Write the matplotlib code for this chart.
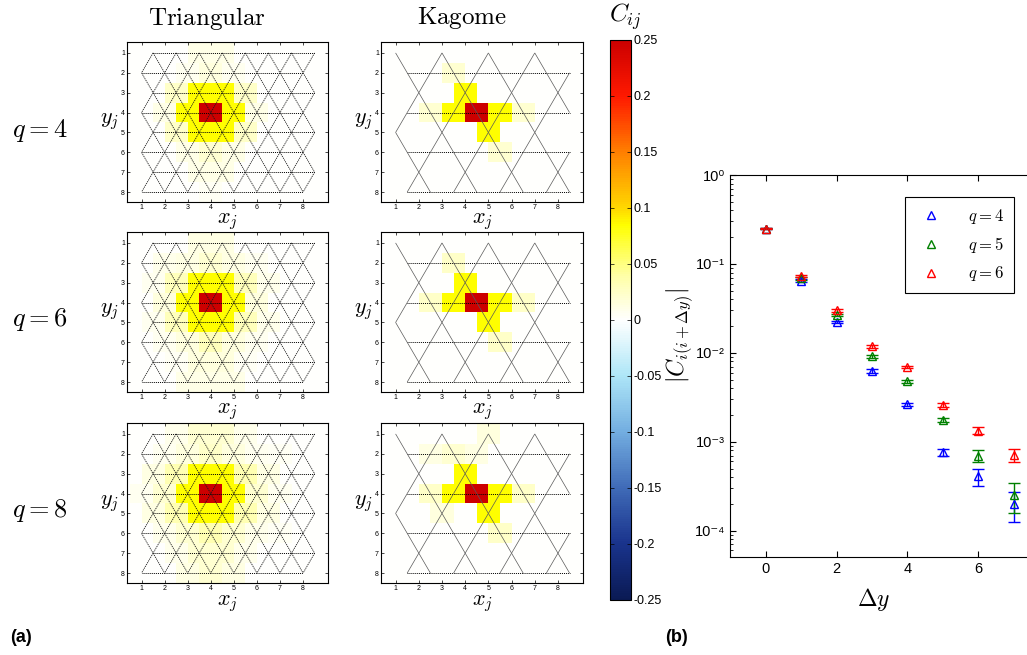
import numpy as np
import matplotlib
matplotlib.use('Agg')
import matplotlib.pyplot as plt
from matplotlib.collections import LineCollection
from matplotlib.colors import LinearSegmentedColormap
from matplotlib.lines import Line2D
from matplotlib.ticker import FuncFormatter

plt.rcParams['font.family'] = ['Liberation Sans', 'DejaVu Sans']
plt.rcParams['mathtext.fontset'] = 'cm'
plt.rcParams['axes.unicode_minus'] = False

W, H = 1027, 655

# correlation maps C_ij around the central site i, entries are (row y, column x, C)
tri_q4 = [(1, 3.5, 0.01), (1, 4.5, 0.01),
          (2, 3, 0.006), (2, 4, 0.015), (2, 5, 0.006),
          (3, 2.5, 0.025), (3, 3.5, 0.085), (3, 4.5, 0.085), (3, 5.5, 0.025),
          (4, 2, 0.01), (4, 3, 0.085), (4, 4, 0.25), (4, 5, 0.085), (4, 6, 0.01),
          (5, 2.5, 0.025), (5, 3.5, 0.085), (5, 4.5, 0.085), (5, 5.5, 0.025),
          (6, 3, 0.01), (6, 4, 0.02), (6, 5, 0.01),
          (7, 3.5, 0.01), (7, 4.5, 0.01),
          (8, 4, 0.005)]
tri_q6 = [(1, 3.5, 0.012), (1, 4.5, 0.012),
          (2, 2, 0.008), (2, 3, 0.012), (2, 4, 0.02), (2, 5, 0.012), (2, 6, 0.006),
          (3, 1.5, 0.006), (3, 2.5, 0.03), (3, 3.5, 0.085), (3, 4.5, 0.085), (3, 5.5, 0.03), (3, 6.5, 0.008),
          (4, 2, 0.015), (4, 3, 0.085), (4, 4, 0.25), (4, 5, 0.085), (4, 6, 0.015),
          (5, 1.5, 0.006), (5, 2.5, 0.03), (5, 3.5, 0.085), (5, 4.5, 0.085), (5, 5.5, 0.03), (5, 6.5, 0.008),
          (6, 2, 0.006), (6, 3, 0.015), (6, 4, 0.03), (6, 5, 0.015), (6, 6, 0.006),
          (7, 2.5, 0.005), (7, 3.5, 0.015), (7, 4.5, 0.015), (7, 5.5, 0.005),
          (8, 3, 0.01), (8, 4, 0.01), (8, 5, 0.01)]
tri_q8 = [(1, 2.5, 0.008), (1, 3.5, 0.02), (1, 4.5, 0.02), (1, 5.5, 0.008),
          (2, 2, 0.006), (2, 3, 0.015), (2, 4, 0.025), (2, 5, 0.015), (2, 6, 0.006), (2, 7, 0.004),
          (3, 1.5, 0.012), (3, 2.5, 0.035), (3, 3.5, 0.085), (3, 4.5, 0.085), (3, 5.5, 0.035), (3, 6.5, 0.012),
          (4, 1, 0.006), (4, 2, 0.02), (4, 3, 0.085), (4, 4, 0.25), (4, 5, 0.085), (4, 6, 0.02), (4, 7, 0.006),
          (5, 1.5, 0.012), (5, 2.5, 0.035), (5, 3.5, 0.085), (5, 4.5, 0.085), (5, 5.5, 0.035), (5, 6.5, 0.012),
          (6, 2, 0.008), (6, 3, 0.02), (6, 4, 0.035), (6, 5, 0.02), (6, 6, 0.008), (6, 7, 0.005),
          (7, 2.5, 0.008), (7, 3.5, 0.02), (7, 4.5, 0.02), (7, 5.5, 0.008),
          (8, 3, 0.012), (8, 4, 0.02), (8, 5, 0.012)]
kag_q4 = [(2, 3.5, 0.02),
          (3, 4, 0.085),
          (4, 2.5, 0.02), (4, 3.5, 0.085), (4, 4.5, 0.25), (4, 5.5, 0.085), (4, 6.5, 0.02),
          (5, 5, 0.085),
          (6, 5.5, 0.02)]
kag_q6 = [(2, 3.5, 0.025),
          (3, 4, 0.085),
          (4, 2.5, 0.025), (4, 3.5, 0.085), (4, 4.5, 0.25), (4, 5.5, 0.085), (4, 6.5, 0.025),
          (5, 5, 0.085),
          (6, 5.5, 0.025)]
kag_q8 = [(1, 5, 0.015),
          (2, 2.5, 0.012), (2, 3.5, 0.02), (2, 4.5, 0.012),
          (3, 4, 0.085),
          (4, 2.5, 0.025), (4, 3.5, 0.085), (4, 4.5, 0.25), (4, 5.5, 0.085), (4, 6.5, 0.025),
          (5, 3, 0.015), (5, 5, 0.085),
          (6, 5.5, 0.025)]

q_rows = ['$q=4$', '$q=6$', '$q=8$']

# decay of |C| along y
dy = [0, 1, 2, 3, 4, 5, 6, 7]
c_q4 = [0.25, 0.065, 0.0223, 0.0063, 0.00263, 0.00077, 0.00041, 0.0002]
e_q4 = [0.003, 0.002, 0.0008, 0.0003, 0.00012, 0.00007, 0.00009, 0.000075]
c_q5 = [0.25, 0.0686, 0.0268, 0.0091, 0.00478, 0.00176, 0.0007, 0.00025]
e_q5 = [0.003, 0.002, 0.0009, 0.0004, 0.0002, 0.0001, 0.00011, 0.00009]
c_q6 = [0.25, 0.0725, 0.030, 0.0118, 0.00695, 0.00262, 0.00133, 0.00071]
e_q6 = [0.003, 0.002, 0.001, 0.0005, 0.00025, 0.00013, 0.00012, 0.00012]

cmap = LinearSegmentedColormap.from_list('corr', [
    (0.00, (0.04, 0.10, 0.33)),
    (0.10, (0.10, 0.20, 0.55)),
    (0.20, (0.25, 0.42, 0.72)),
    (0.30, (0.45, 0.68, 0.88)),
    (0.40, (0.68, 0.90, 0.97)),
    (0.50, (1.00, 1.00, 1.00)),
    (0.58, (1.00, 1.00, 0.65)),
    (0.67, (1.00, 1.00, 0.00)),
    (0.70, (1.00, 0.85, 0.00)),
    (0.80, (1.00, 0.50, 0.00)),
    (0.90, (1.00, 0.10, 0.00)),
    (1.00, (0.80, 0.00, 0.00))])

SUP = str.maketrans('-0123456789', '⁻⁰¹²³⁴⁵⁶⁷⁸⁹')


def px_axes(fig, left, top, w, h):
    return fig.add_axes([left / W, 1 - (top + h) / H, w / W, h / H])


def tri_sites():
    s = []
    for y in range(1, 9):
        xs = np.arange(1.5, 9, 1.0) if y % 2 else np.arange(1, 9, 1.0)
        s += [(x, y) for x in xs]
    return s


def kag_sites():
    s = []
    for y in range(1, 9):
        if y % 2 == 0:
            xs = np.arange(1.5, 9, 1.0)
        elif y in (1, 5):
            xs = [1, 3, 5, 7]
        else:
            xs = [2, 4, 6, 8]
        s += [(float(x), y) for x in xs]
    return s


def bonds(sites):
    ss = set(sites)
    hor, diag = [], []
    for x, y in sites:
        if (x + 1, y) in ss:
            hor.append([(x, y), (x + 1, y)])
        for dx in (-0.5, 0.5):
            if (x + dx, y + 1) in ss:
                diag.append([(x, y), (x + dx, y + 1)])
    return hor, diag


xe = np.arange(0.5, 9.01, 0.5)
ye = np.arange(0.5, 8.51, 1.0)


def lattice_panel(ax, corr, sites, kagome):
    grid = np.zeros((8, 17))
    for y, x, c in corr:
        j = int(round(2 * x - 2))
        grid[y - 1, j] = c
        grid[y - 1, j + 1] = c
    mesh = ax.pcolormesh(xe, ye, grid, cmap=cmap, vmin=-0.25, vmax=0.25, zorder=0)
    hor, diag = bonds(sites)
    ax.add_collection(LineCollection(hor, colors='black', linewidths=0.7,
                                     linestyles=(0, (1, 1)), zorder=2))
    if kagome:
        ax.add_collection(LineCollection(diag, colors='0.35', linewidths=0.5, zorder=2))
    else:
        ax.add_collection(LineCollection(diag, colors='0.1', linewidths=0.6,
                                         linestyles=(0, (1.5, 1)), zorder=2))
    ax.set_xlim(0.37, 9.08)
    ax.set_ylim(8.5, 0.45)
    ax.set_xticks(range(1, 9))
    ax.set_yticks(range(1, 9))
    ax.tick_params(direction='in', length=2, width=0.5, labelsize=5,
                   top=True, right=True, pad=1.5)
    for sp in ax.spines.values():
        sp.set_linewidth(0.8)
    ax.set_xlabel('$x_j$', fontsize=16)
    ax.xaxis.set_label_coords(0.5, -0.125)
    ax.xaxis.label.set_va('center')
    ax.set_ylabel('$y_j$', fontsize=16, rotation=0, ha='right', va='center')
    ax.yaxis.set_label_coords(-0.04, 0.5)
    return mesh


fig = plt.figure(figsize=(W / 100, H / 100), dpi=100)

tops = [42, 232, 423]
tri_maps = [tri_q4, tri_q6, tri_q8]
kag_maps = [kag_q4, kag_q6, kag_q8]
for r in range(3):
    ax_t = px_axes(fig, 127, tops[r], 201, 160)
    mesh = lattice_panel(ax_t, tri_maps[r], tri_sites(), False)
    ax_k = px_axes(fig, 381, tops[r], 202, 160)
    lattice_panel(ax_k, kag_maps[r], kag_sites(), True)
    fig.text(40 / W, 1 - (tops[r] + 88) / H, q_rows[r], fontsize=19,
             ha='center', va='center')

fig.text(207 / W, 1 - 18 / H, r'$\mathrm{Triangular}$', fontsize=18,
         ha='center', va='center')
fig.text(462 / W, 1 - 18 / H, r'$\mathrm{Kagome}$', fontsize=18,
         ha='center', va='center')

cax = px_axes(fig, 610, 40, 21, 560)
cb = fig.colorbar(mesh, cax=cax)
cb_ticks = np.round(np.arange(-0.25, 0.251, 0.05), 2) + 0.0
cb.set_ticks(cb_ticks)
cb.set_ticklabels(['%g' % (t + 0.0) for t in cb_ticks])
cax.tick_params(direction='in', length=3, width=0.5, left=True, right=True,
                labelsize=9, pad=2)
cb.outline.set_linewidth(0.8)
fig.text(625 / W, 1 - 17 / H, '$C_{ij}$', fontsize=18, ha='center', va='center')

# right panel: correlation decay
ax = px_axes(fig, 730, 175, 319.5, 381.7)
ax.set_yscale('log')
series = [(c_q4, e_q4, (0, 0, 1), '$q=4$'),
          (c_q5, e_q5, (0, 0.5, 0), '$q=5$'),
          (c_q6, e_q6, (1, 0, 0), '$q=6$')]
handles = []
for vals, err, col, lab in series:
    ax.errorbar(dy, vals, yerr=err, fmt='^', mfc='none', mec=col, color=col,
                ms=6, mew=1, elinewidth=1, capsize=4, capthick=1)
    handles.append(Line2D([], [], marker='^', ls='none', mfc='none', mec=col,
                          ms=6, mew=1))
ax.set_xlim(-1, 8)
ax.set_ylim(5.1e-5, 1)
ax.set_xticks([0, 2, 4, 6])
ax.yaxis.set_major_formatter(FuncFormatter(
    lambda v, pos: '10' + str(int(round(np.log10(v)))).translate(SUP)))
ax.tick_params(which='both', direction='in', top=True, right=True, labelsize=10.5)
ax.tick_params(which='major', length=4)
ax.tick_params(which='minor', length=2)
for sp in ax.spines.values():
    sp.set_linewidth(0.8)
leg = ax.legend(handles, [s[3] for s in series], loc='upper right',
                bbox_to_anchor=(0.889, 0.942), fancybox=False, framealpha=1,
                edgecolor='black', fontsize=12, handletextpad=1.2,
                borderpad=0.6, labelspacing=0.55, borderaxespad=0)
leg.get_frame().set_linewidth(0.8)
ax.set_ylabel(r'$|C_{i(i+\Delta y)}|$', fontsize=17)
ax.yaxis.set_label_coords(-0.11, 0.58)
ax.set_xlabel(r'$\Delta y$', fontsize=17)
ax.xaxis.set_label_coords(0.45, -0.113)
ax.xaxis.label.set_va('center')

fig.text(10 / W, 1 - 637 / H, '(a)', fontsize=13, fontweight='bold', va='center')
fig.text(665 / W, 1 - 637 / H, '(b)', fontsize=13, fontweight='bold', va='center')

fig.savefig('out.png', dpi=100)
